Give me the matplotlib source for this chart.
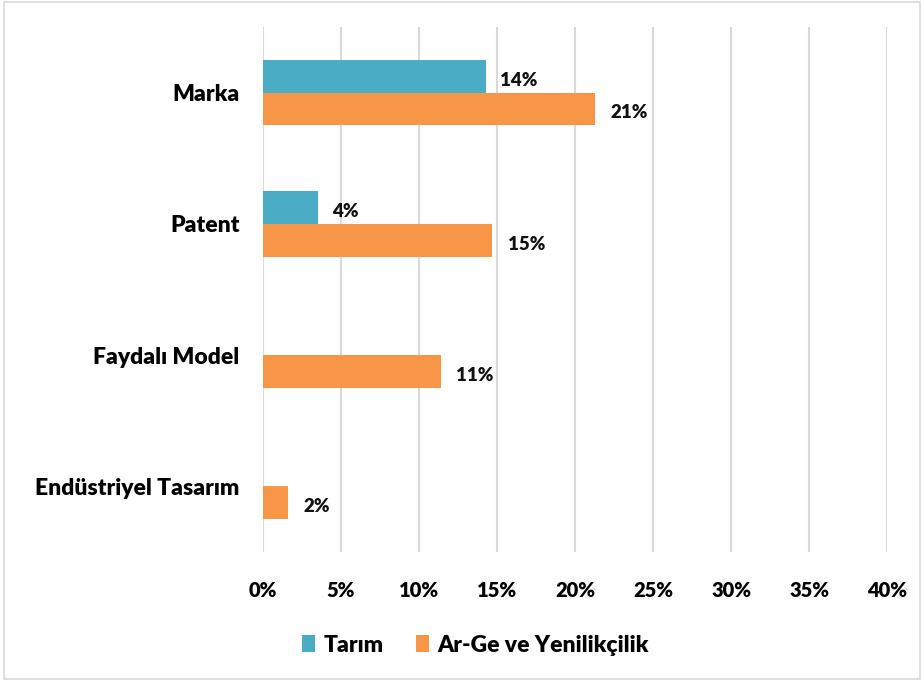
import matplotlib.pyplot as plt
import matplotlib.patches as mpatches
import numpy as np

# ---- Data (percent) ----
categories = ["Marka", "Patent", "Faydalı Model", "Endüstriyel Tasarım"]
tarim = [14.3, 3.5, 0.0, 0.0]
arge = [21.3, 14.7, 11.4, 1.6]
tarim_labels = ["14%", "4%", None, None]
arge_labels = ["21%", "15%", "11%", "2%"]
xticks = [0, 5, 10, 15, 20, 25, 30, 35, 40]

plt.rcParams['font.family'] = ['Lato', 'DejaVu Sans']
plt.rcParams['font.weight'] = 'heavy'

fig = plt.figure(figsize=(9.22, 6.81), dpi=100)
ax = fig.add_axes([263/922, 1-552/681, (887-263)/922, (552-27)/681])

teal = "#4BACC6"
orange = "#F79646"
h = 0.25
y = np.arange(len(categories))

ax.barh(y - h/2, tarim, height=h, color=teal, label="Tarım", zorder=3)
ax.barh(y + h/2, arge, height=h, color=orange, label="Ar-Ge ve Yenilikçilik", zorder=3)

for yi, v, lab in zip(y, tarim, tarim_labels):
    if lab:
        ax.text(v + 0.9, yi - h/2 + 0.03, lab, va="center", ha="left",
                fontsize=13.5, fontweight="heavy", color="#111111")
for yi, v, lab in zip(y, arge, arge_labels):
    ax.text(v + 1.0, yi + h/2 + 0.03, lab, va="center", ha="left",
            fontsize=13.5, fontweight="heavy", color="#111111")

ax.set_xlim(0, 40)
ax.set_ylim(len(categories) - 0.5, -0.5)
ax.set_xticks(xticks)
ax.set_xticklabels([f"{t}%" for t in xticks], fontsize=14.5, fontweight="heavy")
ax.set_yticks(y)
ax.set_yticklabels(categories, fontsize=16.5, fontweight="heavy")
ax.tick_params(axis="x", length=0, pad=21)
ax.tick_params(axis="y", length=0, pad=17)
ax.grid(axis="x", color="#D9D9D9", linewidth=1.5, zorder=0)
for s in ax.spines.values():
    s.set_visible(False)

ax.legend(loc="upper center", bbox_to_anchor=(0.34, -0.118), ncol=2, frameon=False,
          handlelength=0.6, handleheight=0.8, handletextpad=0.35,
          columnspacing=1.4, prop={'weight': 'heavy', 'size': 16.5})

fig.patches.append(mpatches.Rectangle((4/922, 2/681), 1-6/922, 1-4/681,
                                      transform=fig.transFigure, fill=False,
                                      edgecolor="#D9D9D9", linewidth=1.2))

plt.savefig("out.png", dpi=100)
